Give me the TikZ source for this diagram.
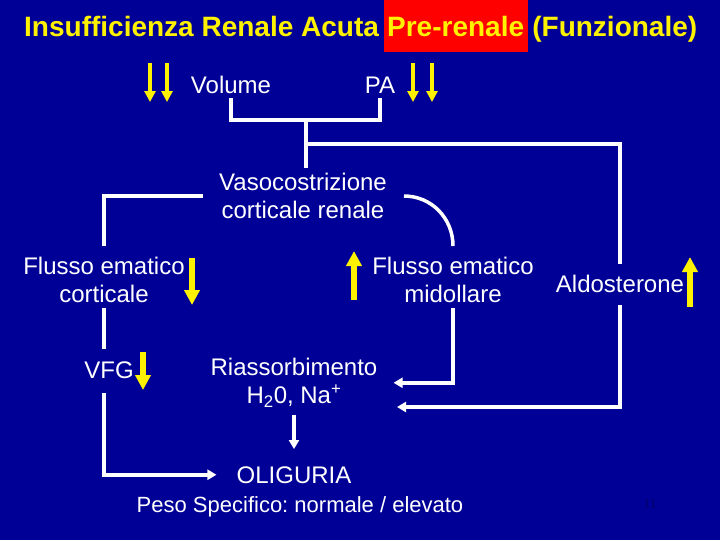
\documentclass[tikz,border=0pt]{standalone}
\usepackage{fontspec}
\setmainfont{Liberation Sans}
\newfontfamily\pagefont{Liberation Serif}
\usetikzlibrary{positioning,arrows.meta}
\definecolor{slideblue}{RGB}{0,0,150}
\definecolor{darkblue}{RGB}{0,0,105}
\frenchspacing
\tikzset{
  lbl/.style={text=white, font=\fontsize{24}{28}\selectfont, align=center, inner sep=5pt},
  ttl/.style={text=yellow, font=\fontsize{28}{34}\selectfont\bfseries, inner sep=0pt},
  wline/.style={white, line width=3.5pt},
  warr/.style={wline, -{Triangle[length=9pt,width=10pt]}},
  ydown/.style={yellow, line width=6pt, -{Triangle[length=15pt,width=15pt]}},
  ysmall/.style={yellow, line width=4.5pt, -{Triangle[length=11pt,width=11pt]}},
}

\begin{document}
\begin{tikzpicture}[x=1pt,y=-1pt]
      \fill[slideblue] (0,0) rectangle (720,540);
      % title
      \node[ttl, anchor=base west] (t1) at (24,36) {Insufficienza Renale Acuta};
      \node[ttl, fill=red, inner xsep=3.5pt, minimum height=52pt, base right=4.3pt of t1] (t2) {Pre-renale};
      \node[ttl, base right=4.3pt of t2] (t3) {(Funzionale)};
      % texts
      \node[lbl, anchor=base] (vol) at (231,93) {Volume};
      \node[lbl, anchor=base] (pa) at (380,93) {PA};
      \node[lbl, anchor=north] (vaso) at (303,168) {Vasocostrizione\\corticale renale};
      \node[lbl, anchor=north] (cort) at (104,252) {Flusso ematico\\corticale};
      \node[lbl, anchor=north] (mid) at (453,252) {Flusso ematico\\midollare};
      \node[lbl, anchor=base] (aldo) at (620,292) {Aldosterone};
      \node[lbl, anchor=base] (vfg) at (109,378) {VFG};
      \node[lbl, anchor=north] (riass) at (294,353) {Riassorbimento\\H\textsubscript{2}0, Na\textsuperscript{+}};
      \node[lbl, anchor=base] (olig) at (294,483) {OLIGURIA};
      \node[lbl, font=\fontsize{22}{26}\selectfont, anchor=base] (peso) at (300,512) {Peso Specifico: normale / elevato};
      \node[text=darkblue, font=\pagefont\fontsize{14}{16}\selectfont, anchor=base] (pg) at (650,508) {11};
      % yellow arrows
      \draw[ysmall] (150,63) -- (150,102);
      \draw[ysmall] (167,63) -- (167,102);
      \draw[ysmall] (413,63) -- (413,102);
      \draw[ysmall] (432,63) -- (432,102);
      \draw[ydown] (192,258) -- (192,305);
      \draw[ydown] (143,352) -- (143,390);
      \draw[ydown] (354,300) -- (354,251);
      \draw[ydown] (690,307) -- (690,257);
      % connectors
      \coordinate (j1) at (306,120);
      \coordinate (j2) at (306,144);
      \coordinate (r2) at (397,407);
      \draw[wline] (vol.south) |- (j1) -| (pa.south);
      \draw[wline] (j1) -- (j1 |- vaso.north);
      \draw[wline] (j2) -| ([yshift=5pt]aldo.north);
      \draw[wline] ([xshift=-11pt]vaso.west) -| ([yshift=6pt]cort.north);
      \draw[wline] ([xshift=12pt]vaso.east) .. controls +(27.6,0) and +(0,-27.6) .. ([yshift=6pt]mid.north);
      \draw[wline] (cort.south) -- ([yshift=7pt]cort.south |- vfg.north);
      \draw[warr] ([yshift=-10pt]cort.south |- vfg.south) |- ([xshift=-15pt]olig.west);
      \draw[warr] (mid.south) |- ([xshift=11pt]riass.east);
      \draw[warr] ([yshift=-8pt]aldo.south) |- (r2);
      \draw[warr] ([yshift=-2pt]riass.south) -- ([yshift=12pt]olig.north);
    \end{tikzpicture}
\end{document}
